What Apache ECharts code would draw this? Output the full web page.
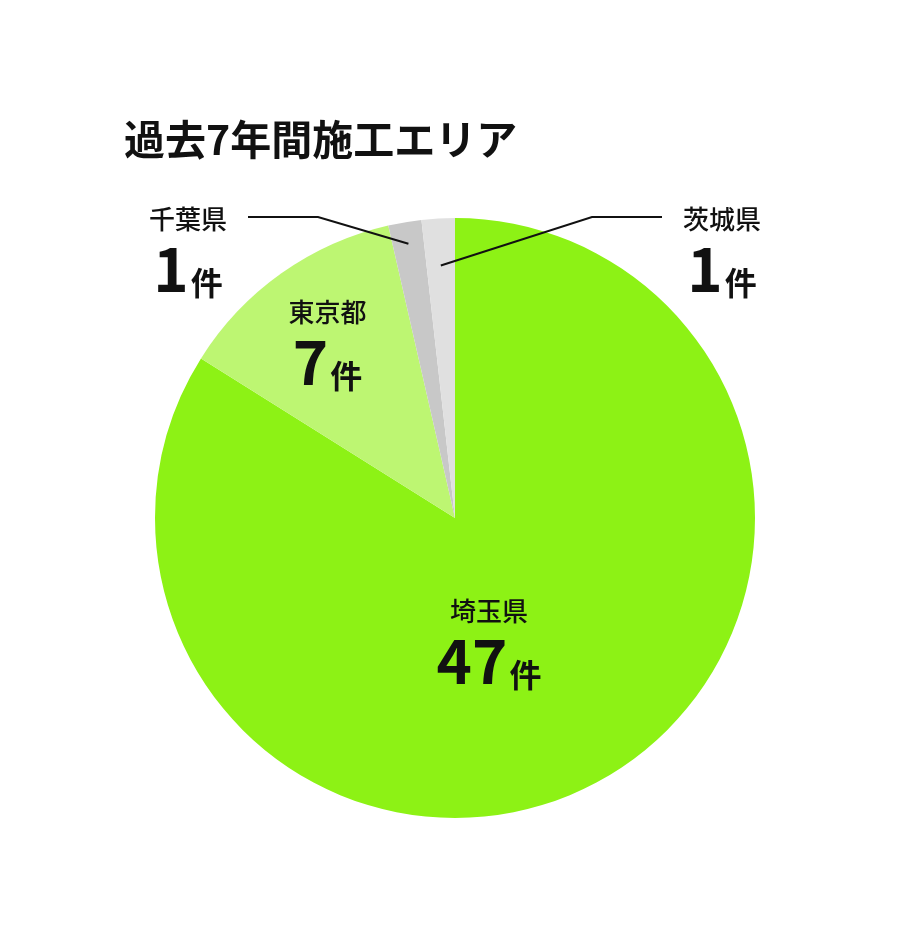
<!DOCTYPE html>
<html lang="ja">
<head>
<meta charset="UTF-8">
<title>過去7年間施工エリア</title>
<script src="https://cdn.jsdelivr.net/npm/echarts@6/dist/echarts.min.js"></script>
<style>
  html, body { margin: 0; padding: 0; background: #fff; }
  #chart { width: 910px; height: 940px; }
</style>
</head>
<body>
<div id="chart"></div>
<script>
const titleText = '過去7年間施工エリア';
const areas = ['埼玉県', '東京都', '千葉県', '茨城県'];
const counts = [47, 7, 1, 1];
const unit = '件';

const colors = ['#8df215', '#bdf672', '#c8c8c8', '#e0e0e0'];
const FONT = '"Noto Sans CJK JP", "Noto Sans", sans-serif';
const R = 300;
const CY = 518;

var chart = echarts.init(document.getElementById('chart'));

// inside labels: nudge from the default spot
const insideShift = { '埼玉県': [-40, -10], '東京都': [-39, -50] };
// outside labels: side of the leader and how deep it starts in the slice
const outside = { '千葉県': { side: -1, depth: 0.927 }, '茨城県': { side: 1, depth: 0.843 } };

// filled slices, no labels
const slices = areas.map(function (name, i) {
  return { name: name, value: counts[i], itemStyle: { color: colors[i] } };
});

// same slices again, invisible, carrying labels + leader lines on top
const labelled = areas.map(function (name, i) {
  const out = outside[name];
  return {
    name: name,
    value: counts[i],
    label: { position: out ? 'outside' : 'inside' },
    labelLine: { show: !!out }
  };
});

chart.setOption({
  backgroundColor: '#fff',
  animation: false,
  title: {
    text: titleText,
    left: 119,
    top: 114,
    textStyle: { fontFamily: FONT, fontSize: 41, fontWeight: 'bold', color: '#111' }
  },
  series: [{
    type: 'pie',
    center: ['50%', CY],
    radius: R,
    startAngle: 90,
    clockwise: true,
    silent: true,
    label: { show: false },
    labelLine: { show: false },
    data: slices
  }, {
    type: 'pie',
    z: 5,
    center: ['50%', CY],
    radius: R,
    startAngle: 90,
    clockwise: true,
    avoidLabelOverlap: false,
    silent: true,
    itemStyle: { color: 'rgba(0,0,0,0)' },
    data: labelled,
    label: {
      show: true,
      fontFamily: FONT,
      color: '#111',
      formatter: function (p) {
        return '{n|' + p.name + '}\n{v|' + p.value + '}{u|' + unit + '}';
      },
      rich: {
        n: { fontFamily: FONT, fontSize: 26, fontWeight: 500, color: '#111', lineHeight: 36, align: 'center' },
        v: { fontFamily: FONT, fontSize: 60, fontWeight: 'bold', color: '#111', lineHeight: 62, verticalAlign: 'bottom' },
        u: { fontFamily: FONT, fontSize: 32, fontWeight: 'bold', color: '#111', lineHeight: 62, verticalAlign: 'bottom', padding: [0, 0, 0, 2] }
      }
    },
    labelLine: {
      lineStyle: { color: '#111', width: 2, opacity: 1 }
    },
    labelLayout: function (params) {
      const name = areas[params.dataIndex];
      const cx = chart.getWidth() / 2;
      if (insideShift[name]) {
        return { dx: insideShift[name][0], dy: insideShift[name][1] };
      }
      const o = outside[name];
      const p0 = params.labelLinePoints[0];
      const lineY = CY - R - 1;
      const start = [cx + (p0[0] - cx) * o.depth, CY + (p0[1] - CY) * o.depth];
      return {
        x: cx + o.side * 267,
        y: lineY + 33,
        align: 'center',
        verticalAlign: 'middle',
        labelLinePoints: [start, [cx + o.side * 137, lineY], [cx + o.side * 207, lineY]]
      };
    }
  }]
});
</script>
</body>
</html>
